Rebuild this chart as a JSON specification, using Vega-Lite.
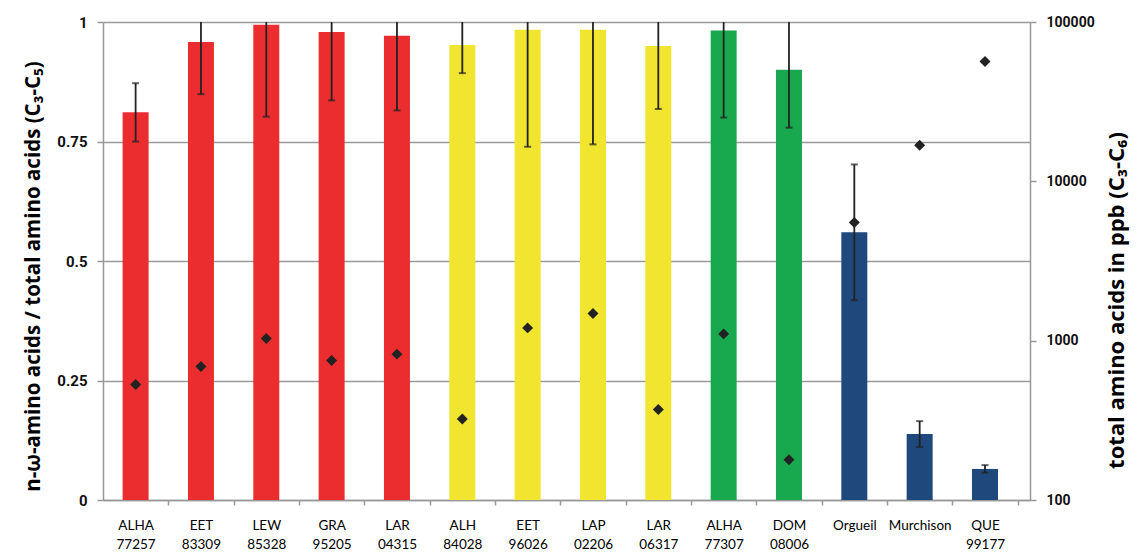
{
  "$schema": "https://vega.github.io/schema/vega-lite/v6.json",
  "width": 927,
  "height": 478,
  "autosize": {"type": "none"},
  "padding": {"left": 103, "top": 22, "right": 108, "bottom": 54},
  "config": {"view": {"stroke": null}, "font": "Lato"},
  "data": {"values": [
    {"name": "ALHA 77257", "grp": "a", "ratio": 0.811, "lo": 0.750, "hi": 0.872, "total": 531},
    {"name": "EET 83309", "grp": "a", "ratio": 0.958, "lo": 0.849, "hi": 1.067, "total": 689},
    {"name": "LEW 85328", "grp": "a", "ratio": 0.994, "lo": 0.802, "hi": 1.186, "total": 1032},
    {"name": "GRA 95205", "grp": "a", "ratio": 0.979, "lo": 0.836, "hi": 1.122, "total": 751},
    {"name": "LAR 04315", "grp": "a", "ratio": 0.971, "lo": 0.815, "hi": 1.127, "total": 823},
    {"name": "ALH 84028", "grp": "b", "ratio": 0.952, "lo": 0.893, "hi": 1.011, "total": 322},
    {"name": "EET 96026", "grp": "b", "ratio": 0.984, "lo": 0.739, "hi": 1.229, "total": 1203},
    {"name": "LAP 02206", "grp": "b", "ratio": 0.984, "lo": 0.744, "hi": 1.224, "total": 1482},
    {"name": "LAR 06317", "grp": "b", "ratio": 0.950, "lo": 0.818, "hi": 1.082, "total": 370},
    {"name": "ALHA 77307", "grp": "c", "ratio": 0.982, "lo": 0.800, "hi": 1.164, "total": 1103},
    {"name": "DOM 08006", "grp": "c", "ratio": 0.900, "lo": 0.779, "hi": 1.021, "total": 179},
    {"name": "Orgueil", "grp": "d", "ratio": 0.560, "lo": 0.418, "hi": 0.702, "total": 5510},
    {"name": "Murchison", "grp": "d", "ratio": 0.138, "lo": 0.111, "hi": 0.165, "total": 16820},
    {"name": "QUE 99177", "grp": "d", "ratio": 0.065, "lo": 0.057, "hi": 0.073, "total": 56500}
  ]},
  "encoding": {
    "x": {
      "field": "name", "type": "nominal", "sort": null,
      "scale": {"paddingInner": 0.602, "paddingOuter": 0.395, "align": 0.38},
      "axis": {
        "title": null, "labelAngle": 0, "labelExpr": "split(datum.label, ' ')",
        "labelFont": "Lato", "labelFontSize": 13.5, "labelColor": "#000000",
        "labelLineHeight": 19, "labelPadding": 13, "labelBaseline": "top",
        "tickOffset": 32.68, "labelOffset": -32.68,
        "tickColor": "#999999", "tickSize": 5, "tickWidth": 1.5,
        "domainColor": "#999999", "domainWidth": 1.5
      }
    }
  },
  "layer": [
    {
      "layer": [
        {
          "mark": {"type": "bar"},
          "encoding": {
            "y": {
              "field": "ratio", "type": "quantitative",
              "scale": {"domain": [0, 1], "nice": false},
              "axis": {
                "values": [0, 0.25, 0.5, 0.75, 1], "labelExpr": "'' + datum.value",
                "title": "n-ω-amino acids / total amino acids (C₃-C₅)",
                "titleFont": "Open Sans", "titleFontSize": 20.5, "titleFontWeight": "bold", "titleColor": "#000000",
                "titlePadding": 13, "titleY": 254,
                "labelFont": "Roboto", "labelFontSize": 15, "labelFontWeight": "bold", "labelColor": "#111111",
                "labelPadding": 10,
                "grid": true, "gridColor": "#9a9a9a", "gridWidth": 1.6,
                "tickColor": "#999999", "tickSize": 6, "tickWidth": 1.5,
                "domainColor": "#999999", "domainWidth": 1.5
              }
            },
            "color": {
              "field": "grp", "type": "nominal", "legend": null,
              "scale": {"domain": ["a", "b", "c", "d"], "range": ["#EC2D2F", "#F1E52F", "#18A94F", "#1F497C"]}
            }
          }
        },
        {
          "mark": {"type": "rule", "clip": true, "color": "#222222", "strokeWidth": 1.8},
          "encoding": {
            "y": {"field": "lo", "type": "quantitative"},
            "y2": {"field": "hi"}
          }
        },
        {
          "mark": {"type": "tick", "clip": true, "color": "#222222", "thickness": 2, "size": 7},
          "encoding": {"y": {"field": "lo", "type": "quantitative"}}
        },
        {
          "mark": {"type": "tick", "clip": true, "color": "#222222", "thickness": 2, "size": 7},
          "encoding": {"y": {"field": "hi", "type": "quantitative"}}
        }
      ]
    },
    {
      "mark": {"type": "point", "shape": "diamond", "filled": true, "color": "#222222", "opacity": 1, "size": 120},
      "encoding": {
        "y": {
          "field": "total", "type": "quantitative",
          "scale": {"type": "log", "domain": [100, 100000], "nice": false},
          "axis": {
            "orient": "right", "values": [100, 1000, 10000, 100000], "format": "d",
            "title": "total amino acids in ppb (C₃-C₆)",
            "titleFont": "Open Sans", "titleFontSize": 22, "titleFontWeight": "bold", "titleColor": "#000000",
            "titleAngle": 270, "titlePadding": 34, "titleY": 278,
            "labelFont": "Roboto", "labelFontSize": 14, "labelFontWeight": "bold", "labelColor": "#111111",
            "labelPadding": 10, "grid": false,
            "tickColor": "#999999", "tickSize": 6, "tickWidth": 1.5,
            "domainColor": "#999999", "domainWidth": 1.5
          }
        }
      }
    }
  ],
  "resolve": {"scale": {"y": "independent"}}
}
